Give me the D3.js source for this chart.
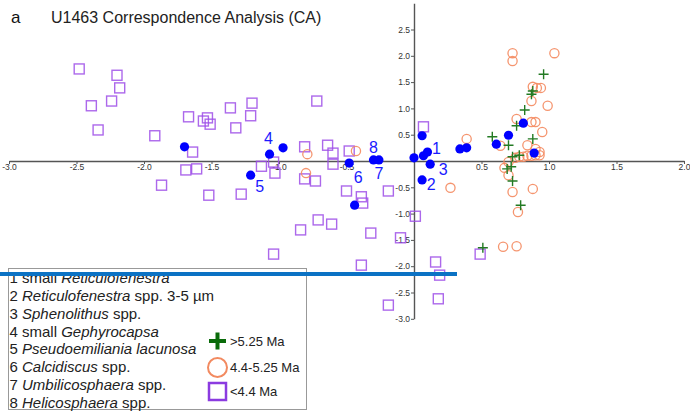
<!DOCTYPE html>
<html>
<head>
<meta charset="utf-8">
<script src="https://cdn.jsdelivr.net/npm/d3@7"></script>
<style>
  html, body { margin: 0; padding: 0; background: #fff; }
  svg { display: block; font-family: Arial, "Liberation Sans", sans-serif; }
</style>
</head>
<body>
<svg id="chart" width="690" height="415"></svg>
<script>
// Sample scores, >5.25 Ma (CA axis 1, axis 2)
const oldX = [0.96, 0.88, 0.87, 0.82, 0.76, 0.58, 0.70, 0.88, 0.73, 0.78, 0.69, 0.72, 0.73, 0.79, 0.51];
const oldY = [1.65, 1.33, 1.27, 0.97, 0.67, 0.46, 0.30, 0.42, 0.08, 0.11, -0.15, -0.11, -0.38, -0.84, -1.65];

// Sample scores, 4.4-5.25 Ma
const midX = [-0.79, -0.80, -0.43, 0.39, 0.27, 0.73, 0.73, 1.04, 0.88, 0.91, 0.94, 0.87, 0.99, 0.76, 0.87, 0.90,
  0.95, 0.64, 0.84, 0.90, 0.93, 0.70, 0.75, 0.78, 0.81, 0.84, 0.87, 0.90, 0.93, 0.67, 0.70, 0.73, 0.88, 0.77, 0.66, 0.76];
const midY = [0.13, -0.23, 0.19, 0.42, -0.51, 2.05, 1.90, 2.05, 1.41, 1.39, 1.39, 1.14, 1.05, 0.80, 0.74, 0.74,
  0.55, 0.29, 0.30, 0.23, 0.17, -0.02, 0.06, 0.08, 0.08, 0.10, 0.10, 0.11, 0.11, -0.13, -0.27, -0.59, -0.53, -0.97, -1.63, -1.62];

// Sample scores, <4.4 Ma
const youngX = [-2.48, -2.20, -2.18, -2.39, -2.24, -2.34, -1.92, -1.67, -1.56, -1.53, -1.51, -1.36, -1.20, -1.21, -1.32,
  -0.72, -1.64, -1.69, -1.61, -1.87, -1.52, -1.28, -1.13, -1.04, -1.03, -1.04, -0.81, -0.64, -0.60, -0.60, -0.48,
  -0.81, -0.73, -0.50, -0.39, -0.38, -0.19, -0.71, -0.61, -0.84, -0.32, -0.10, 0.01, -0.39, 0.16, 0.19, 0.18, -0.19, 0.07, 0.49];
const youngY = [1.75, 1.63, 1.39, 1.05, 1.14, 0.59, 0.48, 0.84, 0.76, 0.82, 0.70, 1.01, 1.10, 0.86, 0.63,
  1.14, 0.17, -0.17, -0.15, -0.46, -0.65, -0.63, -0.10, -0.02, -0.23, -1.77, 0.27, 0.30, 0.15, -0.06, 0.19,
  -0.34, -0.38, -0.57, -0.68, -0.80, -0.57, -1.12, -1.20, -1.31, -1.37, -1.46, -1.05, -1.98, -1.92, -2.17, -2.62, -2.74, 0.65, -1.77];

// Taxon scores; numbered taxa are named in the key
const taxonX = [-1.70, -1.07, -0.97, -1.21, -0.48, -0.44, -0.30, -0.26, 0.00, 0.07, 0.10, 0.06, 0.12, 0.06, 0.34, 0.39, 0.61, 0.70, 0.81, 0.89];
const taxonY = [0.27, 0.13, 0.25, -0.27, -0.04, -0.84, 0.02, 0.02, 0.06, 0.10, 0.17, 0.48, -0.06, -0.36, 0.23, 0.25, 0.32, 0.49, 0.72, 0.15];
const taxonNum = ["", "4", "", "5", "6", "", "8", "7", "", "", "1", "", "3", "2", "", "", "", "", "", ""];

// Axis ticks
const xTicks = [-3.0, -2.5, -2.0, -1.5, -1.0, -0.5, 0.5, 1.0, 1.5, 2.0];
const yTicks = [-3.0, -2.5, -2.0, -1.5, -1.0, -0.5, 0.5, 1.0, 1.5, 2.0, 2.5];

// Key text: [number + plain prefix, italic name, plain suffix]
const keyNumbers = ["1 small ", "2 ", "3 ", "4 small ", "5 ", "6 ", "7 ", "8 "];
const keyNames = ["Reticulofenestra", "Reticulofenestra", "Sphenolithus", "Gephyrocapsa",
  "Pseudoemiliania lacunosa", "Calcidiscus", "Umbilicosphaera", "Helicosphaera"];
const keySuffix = ["", " spp. 3-5 µm", " spp.", "", "", " spp.", " spp.", " spp."];
const ageLabels = [">5.25 Ma", "4.4-5.25 Ma", "<4.4 Ma"];

const svg = d3.select("#chart");

const x = d3.scaleLinear().domain([-3, 2]).range([9, 684]);
const y = d3.scaleLinear().domain([-3, 3]).range([318.8, 3.2]);

const PURPLE = "#9d4ee8", ORANGE = "#f4895f", GREEN = "#237a23", BLUE = "#0000ff";

// Title
svg.append("text").attr("x", 11).attr("y", 23).attr("font-size", 17).attr("fill", "#111").text("a");
svg.append("text").attr("x", 51).attr("y", 23).attr("font-size", 16).attr("fill", "#222")
  .text("U1463 Correspondence Analysis (CA)");

// Axes crossing at the origin
const xAxis = d3.axisBottom(x).tickValues(xTicks).tickSize(3).tickSizeOuter(0).tickPadding(0)
  .tickFormat(d => d.toFixed(1));
const yAxis = d3.axisLeft(y).tickValues(yTicks).tickSize(3).tickSizeOuter(0).tickPadding(1)
  .tickFormat(d => d.toFixed(1));

const gx = svg.append("g").attr("transform", `translate(0,${y(0)})`).call(xAxis);
const gy = svg.append("g").attr("transform", `translate(${x(0)},0)`).call(yAxis);
[gx, gy].forEach(g => {
  g.select(".domain").attr("stroke", "#555").attr("stroke-width", 1.4);
  g.selectAll(".tick line").attr("stroke", "#555");
  g.selectAll(".tick text").attr("fill", "#333").attr("font-size", 8.5)
    .attr("font-family", "Arial, 'Liberation Sans', sans-serif");
});

// <4.4 Ma samples
svg.append("g").selectAll("rect").data(d3.range(youngX.length)).join("rect")
  .attr("x", i => x(youngX[i]) - 5).attr("y", i => y(youngY[i]) - 5)
  .attr("width", 10).attr("height", 10)
  .attr("fill", "none").attr("stroke", PURPLE).attr("stroke-width", 1.4).attr("stroke-opacity", 0.85);

// 4.4-5.25 Ma samples
svg.append("g").selectAll("circle").data(d3.range(midX.length)).join("circle")
  .attr("cx", i => x(midX[i])).attr("cy", i => y(midY[i])).attr("r", 4.6)
  .attr("fill", "none").attr("stroke", ORANGE).attr("stroke-width", 1.3).attr("stroke-opacity", 0.9);

// >5.25 Ma samples
const plus = (s) => `M${-s},0H${s}M0,${-s}V${s}`;
svg.append("g").selectAll("path").data(d3.range(oldX.length)).join("path")
  .attr("transform", i => `translate(${x(oldX[i])},${y(oldY[i])})`)
  .attr("d", plus(5)).attr("fill", "none").attr("stroke", GREEN).attr("stroke-width", 1.4);

// Taxa
svg.append("g").selectAll("circle").data(d3.range(taxonX.length)).join("circle")
  .attr("cx", i => x(taxonX[i])).attr("cy", i => y(taxonY[i])).attr("r", 4.6)
  .attr("fill", BLUE);

// Number labels beside the taxa (pixel offsets from each point)
const labelOffset = {
  "1": [9, -4], "2": [9, 4], "3": [13, 5], "4": [-1, -16],
  "5": [9, 11], "6": [9, 14], "7": [0, 13], "8": [0, -13]
};
svg.append("g").selectAll("text").data(d3.range(taxonX.length).filter(i => taxonNum[i])).join("text")
  .attr("x", i => x(taxonX[i]) + labelOffset[taxonNum[i]][0])
  .attr("y", i => y(taxonY[i]) + labelOffset[taxonNum[i]][1])
  .attr("dy", "0.36em").attr("text-anchor", "middle")
  .attr("font-size", 16).attr("fill", "#1a1aff")
  .text(i => taxonNum[i]);

// Key box
const key = svg.append("g");
key.append("rect").attr("x", 8.5).attr("y", 268.5).attr("width", 298).attr("height", 141)
  .attr("fill", "#fff").attr("stroke", "#999").attr("stroke-width", 1);

key.selectAll("text.taxon").data(d3.range(keyNumbers.length)).join("text")
  .attr("class", "taxon")
  .attr("x", 9.5).attr("y", i => 283 + i * 17.86)
  .attr("font-size", 15).attr("fill", "#222")
  .each(function(i) {
    const t = d3.select(this);
    t.append("tspan").text(keyNumbers[i]);
    t.append("tspan").attr("font-style", "italic").text(keyNames[i]);
    if (keySuffix[i]) t.append("tspan").text(keySuffix[i]);
  });

// Age-group symbols
const symX = 217.5;
key.append("path").attr("transform", `translate(${symX},341)`).attr("d", plus(8.5))
  .attr("stroke", "#0a6b0a").attr("stroke-width", 4).attr("fill", "none");
key.append("circle").attr("cx", symX).attr("cy", 367.5).attr("r", 9.5)
  .attr("fill", "none").attr("stroke", "#f28a60").attr("stroke-width", 2);
key.append("rect").attr("x", symX - 8.5).attr("y", 383).attr("width", 17).attr("height", 17)
  .attr("fill", "none").attr("stroke", "#8b3be0").attr("stroke-width", 2.5);

key.selectAll("text.age").data(ageLabels).join("text")
  .attr("class", "age")
  .attr("x", 230).attr("y", (d, i) => [345.5, 372, 396][i])
  .attr("font-size", 13).attr("fill", "#222")
  .text(d => d);

// Highlight rule across the lower panel
svg.append("line").attr("x1", 0).attr("x2", 457).attr("y1", 274).attr("y2", 274)
  .attr("stroke", "#0b72c4").attr("stroke-width", 4);
</script>
</body>
</html>
